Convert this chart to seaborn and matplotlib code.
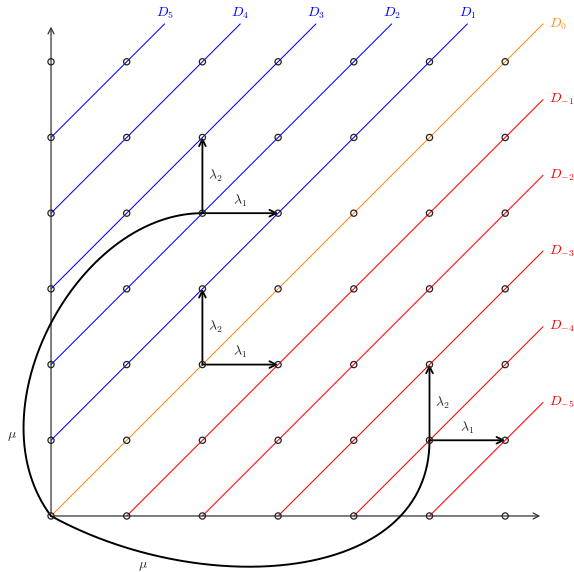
import numpy as np
import pandas as pd
import matplotlib
matplotlib.use("Agg")
import matplotlib.pyplot as plt
import seaborn as sns

# Lattice and diagonal families D_k : y = x + k
grid = [0, 1, 2, 3, 4, 5, 6]
extent = 6.5
offsets_pos = [5, 4, 3, 2, 1]
offsets_zero = [0]
offsets_neg = [-1, -2, -3, -4, -5]

# Base points of the lambda_1 / lambda_2 arrows
arrow_bases_x = [2, 2, 5]
arrow_bases_y = [4, 2, 1]

# Bezier control points of the two mu paths
mu_upper = [(0, 0), (-1.05, 1.4), (0.35, 4.0), (2, 4)]
mu_lower = [(0, 0), (2.0, -1.1), (5.0, -0.9), (5, 1)]

BLUE = "#0000ff"
ORANGE = "#ff8c1a"
RED = "#ff0000"

sns.set_theme(style="white")
plt.rcParams["mathtext.fontset"] = "cm"
plt.rcParams["font.family"] = ["DejaVu Serif"]

fig = plt.figure(figsize=(5.74, 5.72), dpi=100)
ax = fig.add_axes([0, 0, 1, 1])
ax.set_xlim(-0.674, 6.909)
ax.set_ylim(-0.740, 6.816)
ax.set_axis_off()


def diag_segment(k):
    x0 = max(0, -k)
    y0 = x0 + k
    x1 = extent - max(0, k)
    y1 = x1 + k
    return (x0, x1), (y0, y1)


for offs, col in ((offsets_pos, BLUE), (offsets_zero, ORANGE), (offsets_neg, RED)):
    for k in offs:
        xs, ys = diag_segment(k)
        sns.lineplot(x=list(xs), y=list(ys), ax=ax, color=col, lw=0.75,
                     estimator=None, sort=False, zorder=2)
        if k > 0:
            ax.annotate(f"$D_{{{k}}}$", (xs[1], ys[1]), xytext=(0, 2),
                        textcoords="offset points", ha="center", va="bottom",
                        color=col, fontsize=10)
        else:
            ax.annotate(f"$D_{{{k}}}$", (xs[1], ys[1]), xytext=(4, 0),
                        textcoords="offset points", ha="left", va="center",
                        color=col, fontsize=10)

# Axes with arrowheads
axis_kw = dict(arrowstyle="->,head_length=0.35,head_width=0.18", color="#333333", lw=0.9)
ax.annotate("", xy=(extent, 0), xytext=(0, 0), arrowprops=axis_kw, zorder=3)
ax.annotate("", xy=(0, extent), xytext=(0, 0), arrowprops=axis_kw, zorder=3)

# Lattice points
gx, gy = np.meshgrid(grid, grid)
pts = pd.DataFrame({"x": gx.ravel(), "y": gy.ravel()})
sns.scatterplot(data=pts, x="x", y="y", ax=ax, s=20, facecolor="none",
                edgecolor="#222222", linewidth=0.9, zorder=5, legend=False)

# lambda arrows
arr_kw = dict(arrowstyle="->,head_length=0.4,head_width=0.2", color="black", lw=1.3,
              shrinkA=0, shrinkB=0)
for bx, by in zip(arrow_bases_x, arrow_bases_y):
    ax.annotate("", xy=(bx + 1, by), xytext=(bx, by), arrowprops=arr_kw, zorder=4)
    ax.annotate("", xy=(bx, by + 1), xytext=(bx, by), arrowprops=arr_kw, zorder=4)
    ax.text(bx + 0.5, by + 0.06, r"$\lambda_1$", ha="center", va="bottom", fontsize=10)
    ax.text(bx + 0.07, by + 0.5, r"$\lambda_2$", ha="left", va="center", fontsize=10)


def bezier(p, n=200):
    p = np.array(p, dtype=float)
    t = np.linspace(0, 1, n)[:, None]
    return ((1 - t) ** 3 * p[0] + 3 * (1 - t) ** 2 * t * p[1]
            + 3 * (1 - t) * t ** 2 * p[2] + t ** 3 * p[3])


for ctrl in (mu_upper, mu_lower):
    c = bezier(ctrl)
    ax.plot(c[:, 0], c[:, 1], color="black", lw=1.4, zorder=4)

ax.text(-0.52, 1.06, r"$\mu$", ha="center", va="center", fontsize=10)
ax.text(1.22, -0.66, r"$\mu$", ha="center", va="center", fontsize=10)

fig.savefig("out.png", dpi=100)
